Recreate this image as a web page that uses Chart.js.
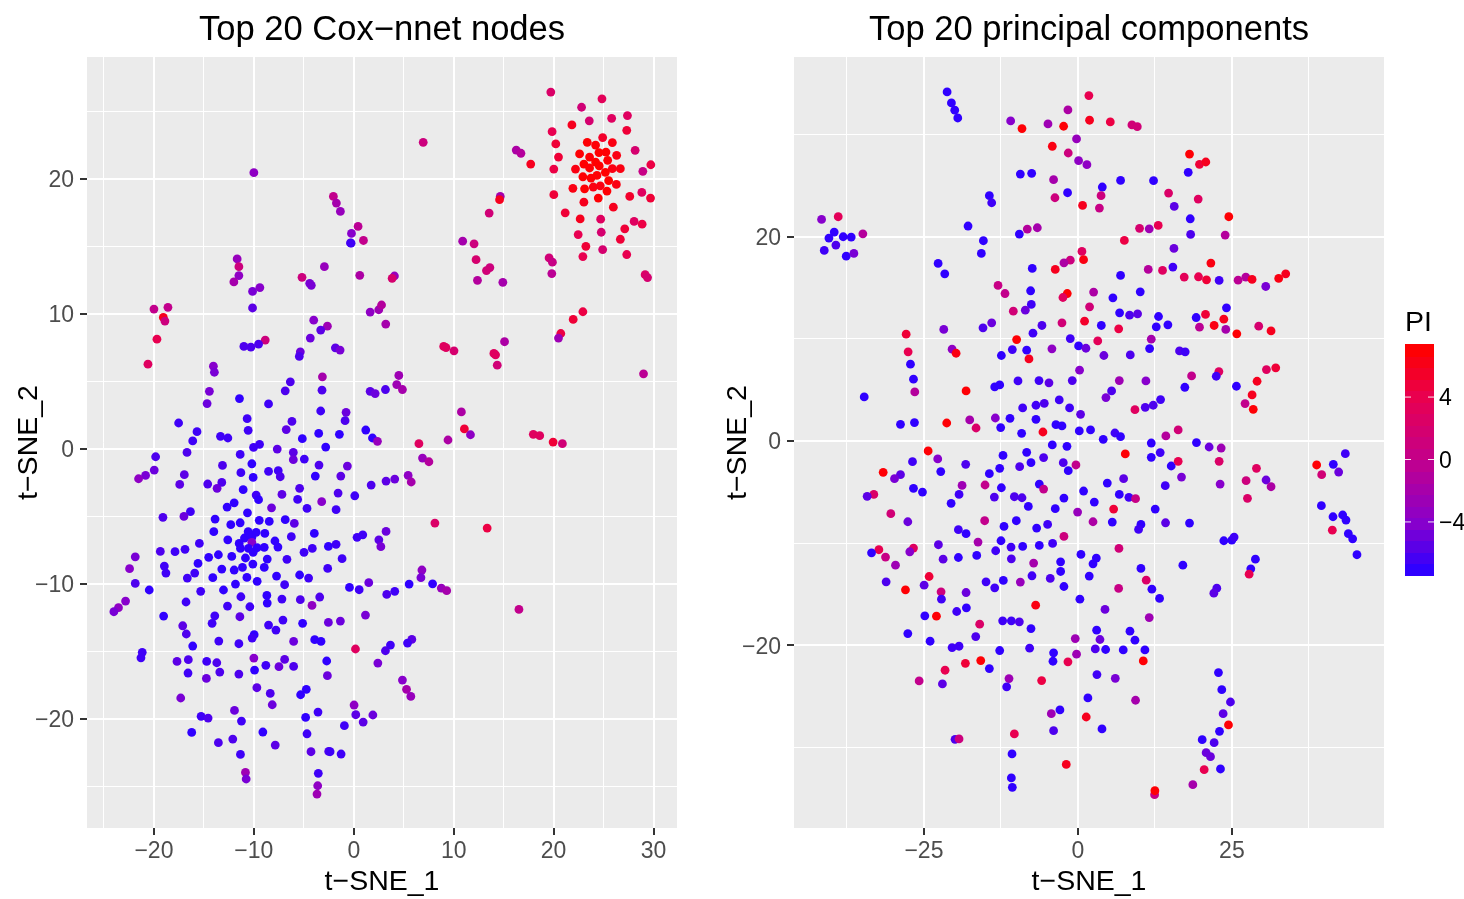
<!DOCTYPE html>
<html>
<head>
<meta charset="utf-8">
<title>t-SNE</title>
<script src="https://cdn.jsdelivr.net/npm/chart.js@4"></script>
<style>
  html, body { margin: 0; padding: 0; background: #fff; overflow: hidden; }
  canvas { position: absolute; top: 0; }
</style>
</head>
<body>
<div style="position:absolute;left:0;top:0;width:720px;height:899px"><canvas id="graficoCox"></canvas></div>
<div style="position:absolute;left:720px;top:0;width:744px;height:899px"><canvas id="graficoPca"></canvas></div>
<script>
// Top 20 Cox-nnet nodes: x, y and PI of each point, same order in the three lists
const coxX = [
  -10,-2.04,-1.74,-1.34,.43,-.23,-.33,-.27,.97,-11.67,-11.5,-11.5,-12,-10.13,-9.4,-10.13,-5.18,-4.41,-4.25,-2.94,.6,-20,-18.6,-19.06,-18.9,-19.7,-20.6,1.64,2.5,2.78,
  -4.01,-2.64,-3.31,-4.35,-8.86,-9.53,-10.3,-11,-1.84,-1.37,-5.35,-5.45,-14.05,-13.95,-3.14,-6.35,-6.86,-3.18,-14.45,-14.68,-11.44,-8.53,1.64,2.14,-3.31,-.77,-.87,-10.67,-6.19,-6.76,
  -10.57,-17.53,-15.69,-13.34,-12.6,-16.12,-9.43,-5.15,-3.51,-1.44,1.2,1.87,2.37,
  19.72,24.84,22.8,27.39,25.81,23.57,21.83,19.85,27.32,24.91,23.37,25.88,24.2,20.22,28.16,22.6,24.54,25.24,26.31,20.49,23.6,24.2,25.41,23.03,24.57,23.6,22.19,20.02,25.88,26.68,
  25.18,29.73,28.93,22.93,23.74,24.34,25.51,26.28,21.93,23.1,23.97,24.67,25.34,20.02,27.62,28.83,29.7,23.03,24.47,25.98,21.16,22.66,24.71,28.06,28.86,27.12,24.77,22.46,26.68,23.23,
  24.91,22.93,27.32,14.66,14.59,13.55,17.71,16.26,16.73,6.95,10.9,12.04,12.24,13.62,13.28,12.38,14.92,19.55,19.88,19.82,29.16,29.4,4.07,3.84,3.2,22.93,21.96,20.72,20.49,15.09,
  9,9.23,10.03,14.02,14.19,14.36,29,4.51,4.3,4.87,3.17,10.77,11.07,11.68,9.43,6.52,17.97,18.61,19.95,20.88,
  6.88,7.52,5.44,5.75,3.23,4.1,8.12,13.35,3.23,6.82,6.72,5.54,7.89,8.76,9.3,4.1,3.3,16.53,5.81,5.38,3.67,3.17,4.87,5.28,5.71,
  -10.03,-7.66,-6.05,-6.05,-4.95,-2.81,-16.69,-19.83,-11.37,-10.2,-13.14,-3.48,-.64,-19.97,-20.84,-21.54,-16.96,-17.42,-14.62,-13.21,-13.68,-11.3,-10.07,-8.53,-7.56,-7.36,-3.85,-1.3,1.74,-11.07,
  -5.42,-7.19,-1.57,.1,-9.77,-9.53,-5.62,-3.21,-11.97,-12.68,-8.23,-4.68,-1.77,-16.35,-17,-19.1,-10.64,-13.88,-9.46,-8.46,-6.86,-5.95,-12.31,-11.37,-14.01,-10.57,-9.77,-8.9,-6.25,-3.95,
  -10.94,-12.61,-10.2,-10.2,-11.47,-7.89,-15.45,.33,.9,2.51,2.71,-2.54,-1.77,-4.15,-7.59,-11.34,-10.54,-9.67,-8.96,-10.07,-19.36,-17.89,-16.89,-4.98,-21.87,-14.52,-13.55,-12.21,-10.84,-8.66,
  -6.69,-1.17,-15.59,-10.1,-22.44,-18.96,-18.8,-13.21,-11.97,-11.14,-8.96,-2.61,-15.92,-16.66,-14.11,-10.7,-7.73,-5.42,-4.52,-9.67,-11.84,-6.92,-21.87,-.43,.54,1.5,-20.47,-15.32,-13.04,-11.3,
  -8.7,-7.19,-5.35,-3.41,-22.84,-16.79,-8.66,-23.55,-24.01,-12.64,-10.4,-4.18,-19.03,-13.91,-11.4,1.17,-7.09,-14.18,-5.12,-2.54,-1.34,-17.12,-8.53,-7.79,-16.76,-9.97,-10.17,-13.51,-11.5,-6.02,
  -3.91,-3.28,-16.12,.17,-21.17,-21.3,-17.69,-16.56,-14.72,-13.71,-10,-6.92,-2.71,-8.8,-7.49,-6.02,2.41,-16.59,-13.41,-11.5,-9.93,-2.64,-14.75,-9.7,-8.36,-4.75,-5.32,-17.32,-8.16,.03,
  -11.94,-15.28,-14.58,-3.58,.2,1.91,-11.24,-4.82,.94,-.94,-16.22,-9.1,-4.68,-12.11,-13.55,-7.86,-4.28,-2.51,-2.37,-1.27,-11.34,-10.84,-10.77,-3.55,-3.61,-3.68
];
const coxY = [
  20.47,18.71,18.22,17.6,16.49,15.97,15.27,15.25,15.45,14.08,13.51,12.85,12.38,11.68,11.96,10.45,12.72,12.28,12.13,13.51,12.87,10.37,10.5,9.75,9.48,8.14,6.29,10.15,10.32,10.67,
  9.55,9.1,8.81,8.22,8.07,7.77,7.55,7.6,7.5,7.33,7.2,6.86,6.14,5.69,5.35,4.98,4.31,4.36,4.28,3.37,3.74,3.34,4.28,4.11,2.82,2.72,2.1,2.25,2.05,1.44,
  1.39,1.93,1.29,.94,.82,.6,.35,.77,1.16,1.09,1.41,.82,.57,
  26.44,25.94,25.32,24.7,24.5,24.31,24.01,23.51,23.61,23.07,22.72,22.7,22.52,22.6,22.13,21.86,21.96,22,21.76,21.63,21.63,21.26,21.39,21.11,20.97,20.82,20.74,20.74,20.77,20.77,
  20.5,21.06,20.57,20.17,20.07,20.27,19.88,19.6,19.31,19.28,19.41,19.5,19.11,18.84,18.71,19.01,18.59,18.29,18.59,17.92,17.5,17.05,17.03,16.86,16.66,16.31,16.06,15.89,15.54,15.02,
  14.78,14.26,14.41,18.71,18.47,17.48,21.11,22.15,21.91,22.72,15.4,15.2,14.03,13.44,13.22,12.5,12.35,14.16,13.84,13,12.92,12.7,12.82,12.65,9.26,10.17,9.6,8.56,8.22,7.95,
  7.6,7.52,7.28,7.08,6.98,6.21,5.57,5.45,4.78,4.41,4.41,2.75,1.49,1.06,.67,.4,1.09,.99,.52,.4,
  -.67,-.94,-1.95,-2.44,-2.37,-2.22,-5.48,-5.85,-6.1,-8.96,-9.53,-10,-9.98,-10.3,-10.49,-10.54,-10.77,-11.88,-14.1,-14.37,-14.52,-14.94,-17.11,-17.8,-18.32,
  .12,0,-.25,-.79,-.74,.15,-.25,-.57,-.4,-1.09,-1.21,-1.19,-1.26,-1.56,-1.95,-2.2,-1.9,-2.62,-2.59,-2.47,-2.91,-1.75,-2.1,-1.65,-1.6,-2.05,-2,-2,-2.67,-3.01,
  -2.91,-3.36,-3.26,-3.46,-3.41,-3.75,-3.73,-3.9,-3.98,-4.3,-4.35,-4.4,-4.49,-4.64,-4.99,-5.06,-4.72,-5.19,-5.28,-5.36,-5.23,-5.51,-5.6,-5.46,-6.12,-6.12,-6.17,-6.25,-6.49,-6.25,
  -6.59,-6.72,-6.54,-6.91,-6.99,-6.81,-6.99,-6.54,-6.35,-6.72,-7.23,-7.21,-7.06,-7.36,-7.26,-7.36,-7.36,-7.31,-7.28,-7.65,-7.58,-7.6,-7.43,-7.65,-7.98,-8.02,-7.83,-7.95,-8.07,-8.15,
  -8.17,-8.12,-8.47,-8.52,-8.86,-8.67,-9.19,-8.89,-8.96,-8.77,-8.77,-8.84,-9.19,-9.56,-9.53,-9.51,-9.41,-9.33,-9.56,-9.8,-10,-10.05,-9.95,-10.25,-10.42,-9.9,-10.44,-10.54,-10.44,-10.94,
  -10.84,-11.11,-11.16,-10.96,-11.26,-11.33,-11.41,-11.75,-12.05,-11.63,-11.68,-11.58,-12.37,-12.35,-12.42,-12.3,-12.67,-12.91,-12.91,-12.84,-12.74,-13.09,-13.04,-13.41,-13.7,-13.75,-14,-14.22,-14.42,-14.25,
  -14.12,-14.25,-14.59,-14.81,-15.06,-15.46,-15.73,-15.6,-15.73,-15.83,-15.48,-15.58,-15.7,-16.02,-16.12,-16.1,-15.85,-16.59,-16.52,-16.67,-16.37,-16.79,-16.99,-17.68,-18.1,-17.8,-18.2,-18.44,-18.94,-18.96,
  -19.36,-19.8,-19.93,-19.48,-19.68,-19.7,-20.15,-19.88,-20.22,-20.49,-20.99,-20.96,-21.09,-21.48,-21.75,-21.93,-22.42,-22.4,-22.42,-22.59,-22.62,-23.95,-24.44,-24.02,-24.94,-25.56
];
const coxPI = [
  -3.5,0,-2,-3,-.5,-4,-6,-6.5,0,-3,1,-3.5,-2,-4.5,-4,-5.5,1,-4.5,-4.5,-3,-1.5,0,0,6,1,4,3,-3.5,-2.5,-1,
  -4,-2.5,-5.5,-5,1,-6,-6,-6,-5.5,-4.5,-5,-6,-4,-4.5,-2,-6,-6,-6,-4.5,-5,-7,-6.5,-5.5,-5,-6.5,-5,-6,-6.5,-6,-5.5,
  -6.5,-6.5,-6.5,-6.5,-6.5,-6.5,-6.5,-7,-7,-7,-7,-7,-3,
  2.5,3.5,1.5,3,3,2,6,4,5,5.5,7,6.5,7,5,2,7,7.4,7,6.5,5,7,7.4,7,7.4,7.4,7,6.5,4.5,6.5,6.5,
  7.4,4.5,.5,7,7,7,7.4,6.5,6.5,7,6.5,6.5,7,5,5.5,3,5,6,7,6,5,6,3,3,4.5,5,2,4,5,5,
  2,4,4,-2,6,1.5,6,-1.5,-1,1,-2,1,2,1,1.5,-1,-2,1.5,.5,-.5,2.5,2,-3,2,-2,4.5,5,4.5,-2.5,-1.5,
  3,3,2,3,3,1.5,-.5,-2.5,-2.5,-2,-6,-1.5,5,-3.5,-1.5,3,3,3,5,1.5,
  -3,-1,-3.5,-2,-5.5,-5,2.5,4.5,-5,-3.5,-4.5,-7,-7,-3,-2,-6.5,-6,0,-5.5,-6.5,-6.5,-6,-4,-2,-3,
  -6.5,-5.5,-5.5,-5,-6.5,-7,-6,-6,-6.5,-7,-6,-6,-5,-5,-4.5,-3.5,-5.5,-5.5,-6,-6,-5,-6.5,-7,-6.5,-6.5,-6,-7,-5.5,-6,-7,
  -6,-5.5,-6,-6.5,-6.5,-7,-6.5,-4,-7,-7,-5,-6.5,-6.5,-6.5,-5,-6,-7,-7,-7,-7,-7,-5.5,-7,-7,-7,-7.4,-7,-7,-6.5,-7,
  -7.4,-7,-7.4,-4,-7.4,-7,-6.5,-6.5,-6.5,-5.5,-4.5,-7,-6.5,-6.5,-7,-7.4,-7.4,-7.4,-7.4,-7.4,-6,-6.5,-6.5,-6.5,-4.5,-7,-7,-7,-7,-7,
  -6.5,-6.5,-7,-7,-4,-6.5,-6.5,-7,-7,-7,-7,-6.5,-6.5,-6.5,-7,-7,-7,-7,-6.5,-7,-7,-6.5,-6,-7,-6.5,-5,-7,-6.5,-7,-6.5,
  -7,-6.5,-6,-6,-4,-6.5,-7,-3.5,-4.5,-6.5,-6.5,-3.5,-7,-6.5,-5.5,-4.5,-6.5,-6.5,-7,-5,-5,-5.5,-6.5,-6.5,-6,-7,-6.5,-6.5,-6.5,-5,
  -7,-7,-7,3,-6.5,-6.5,-5.5,-6,-6.5,-6,-4,-5.5,-7,-6.5,-5,-6,-4.5,-6.5,-6,-6,-7,-5,-5,-5.5,-6,-7,-7,-4.5,-5,-3.5,
  -5,-6.5,-6,-6.5,-5.5,-5,-6.5,-7,-5.5,-6.5,-7,-7,-6.5,-6,-6,-5.5,-5.5,-6,-6.5,-6.5,-6.5,-2.5,-4.5,-6.5,-3.5,-2.5
];

// Top 20 principal components: x, y and PI of each point, same order in the three lists
const pcaX = [
  -21.24,-20.54,-20,-19.51,-10.92,-9.08,-4.86,-2.32,-1.62,1.78,1.89,-.22,-4.16,-1.57,.11,1.46,-9.35,-7.51,-3.95,-1.68,-3.73,.76,-14.38,-14,-41.62,-38.92,-39.57,-40.43,-38.11,-36.81,
  -34.92,-39.3,-41.19,-37.62,-36.38,-17.84,-15.35,-15.68,-9.51,-8.22,-6.59,.65,.92,-1.24,-2.27,-3.68,-7.41,-22.7,-21.62,-12.97,-11.84,-7.68,-7.57,-8.54,-10.49,-1.73,-2.43,1.89,-2.59,1.08,
  -21.78,-15.41,-14,-5.84,-7.3,-27.89,-9.95,-1.24,.11,1.3,-27.57,-20.43,-19.78,-10.65,-8.32,-4.22,-12.43,-7.95,-27.19,.27,-26.7,-9.73,-6.32,-4.7,-.92,-13.51,-12.7,-26.49,-18.16,-34.7,
  -3.03,-5.46,-6.81,-8.97,-1.35,.43,-13.41,-11.03,-6.81,-17.57,-21.3,-26.54,-28.81,-16.54,-12.54,-3.57,-2.59,.22,-9.14,-5.68,2.05,
  5.26,8.77,9.64,18.12,19.74,20.77,17.91,6.93,12.28,3.96,3.76,3.49,14.72,19.53,15.64,18.24,24.5,10.01,11.58,13.04,7.54,18.3,23.91,15.59,21.59,6.93,11.42,13.74,15.42,17.26,
  19.58,20.88,22.93,26.01,27.26,28.28,30.5,32.6,33.74,2.55,10.12,5.68,24.12,6.77,8.39,9.69,13.09,19.2,20.72,23.69,3.8,6.62,12.72,14.61,19.74,22.12,24.01,25.8,29.36,31.36,
  3.22,11.91,11.64,16.5,17.42,4.22,8.5,22.89,22.46,18.46,30.61,32.12,6.72,11.04,29.09,17.36,25.74,5.47,4.55,28.28,13.42,27.14,12.23,10.93,9.26,28.47,6.01,6.92,4.11,14.28,
  16.28,19.25,11.91,
  -24.32,-22.76,-26.86,-18.22,-22.27,-12.16,-8.32,-4.16,-1.78,-5.57,-7.62,-12.7,-9.46,-14.38,-2.38,-.32,-1.57,-31.62,-28.81,-29.78,-18.81,-15.08,-12.43,-6.27,-5.57,-26.7,-25.24,-33.14,-34.22,-19.3,
  -13.57,-10.32,-9.08,-2.27,.92,-20.59,-8.05,-3.68,-.05,-30.38,-27.62,-15.14,-10,-12,-4.92,-6.7,-19.41,-18.16,-2.27,-16.22,-12.49,-22.65,-10.86,-8.97,-6.27,-4.11,-32.32,-33.51,-31.24,-26.7,
  -27.3,-19.41,-21.89,-16.43,-13.35,-10.81,.49,-7.19,-2.81,-29.62,-24.16,-2.81,1.84,-7.46,-4.49,-31.14,-24.97,-14.92,-13.51,-12.11,-9.35,-2.27,-28,-22.22,-18.16,-22.16,.32,-6.86,-18.11,-19.68,
  -24.86,-22.97,-15.95,-12.22,-10.81,-9.51,-7.62,-27.62,-16.59,-.43,-24,-20.43,-19.3,-12.7,-7.84,-3.95,-.22,-4.05,-1.62,-18.27,-15.78,-21.57,-14.38,-11.19,-25.78,-22,-5.89,-11.57,1.62,-2.92,
  -4.32,1.35,-3.95,-10.32,-19.95,-19.3,-10.7,-1.89,-10.81,-10.65,
  7.69,11.91,13.36,21.31,23.26,22.93,15.15,16.28,16.82,14.18,23.09,7.42,4.77,6.72,8.28,9.36,2.66,28.99,27.31,30.55,31.36,27.53,38.77,41.47,43.42,39.58,42.34,39.53,12.55,5.8,
  41.42,42.99,43.53,5.58,2.45,10.23,9.85,14.23,18.12,41.31,43.91,44.61,23.69,24.99,25.36,6.66,45.31,2.99,2.45,28.82,17.04,10.23,28.07,27.8,11.09,6.61,12.01,13.26,22.55,22.07,
  4.4,11.58,3.04,8.45,3.58,9.26,2.82,4.5,7.36,10.88,10.61,22.82,3.09,6.07,23.36,24.77,9.36,23.58,24.45,3.91,22.99,20.18,22.12,20.82,21.53,20.5,23.15,18.66,12.45,12.5
];
const pcaY = [
  34.18,33.1,32.39,31.63,31.34,30.59,31.05,30.82,32.42,33.82,31.41,29.58,28.86,28.2,27.45,27.06,26.14,26.21,25.59,24.31,23.82,23.07,24.02,23.33,21.7,21.96,20.46,19.87,20,19.97,
  20.29,19.18,18.66,18.1,18.37,21.05,19.61,18.37,20.26,20.75,20.88,18.56,17.75,17.71,17.45,16.8,16.9,17.39,16.37,15.23,14.44,14.71,13.37,12.81,12.71,14.44,14.05,13.14,11.57,11.73,
  10.92,11.08,11.57,11.31,10.56,10.46,9.93,10.03,9.31,9.08,8.73,8.99,8.59,8.95,8.89,9.02,8.37,8.04,7.52,6.93,6.05,5.88,5.92,5.69,5.92,5.29,5.49,4.8,4.9,4.31,
  4.02,3.69,3.5,3.24,3.24,2.61,2.25,2.22,2.12,2.06,1.76,1.8,1.63,1.27,1.31,1.6,1.47,.98,.75,.88,1.08,
  31.24,30.95,30.78,28.1,27.09,27.32,26.31,25.52,25.49,24.87,24.02,22.81,24.28,23.69,22.97,21.76,21.96,20.82,20.78,21.11,19.64,20.23,20.16,18.86,17.42,16.21,16.8,16.7,17.03,16.05,
  16.08,15.78,15.72,15.75,16.05,15.82,15.13,15.92,16.37,14.58,14.61,14.02,13.04,12.55,12.32,12.45,12.19,12.09,12.39,11.93,11.31,10.98,11.18,11.37,11.14,11.31,10.92,10.49,11.24,10.78,
  9.8,9.97,9.05,8.82,8.73,8.37,8.43,6.8,6.34,6.37,6.99,7.16,5.92,5.88,5.85,5.26,5.36,4.9,4.25,4.51,4.05,3.66,3.5,3.3,3.07,3.1,.78,.42,.16,.49,
  1.08,-.16,-.2,
  -.98,-1.76,-2.03,-2.29,-3,-1.41,-1.11,-.39,-.52,-1.63,-2.12,-2.68,-2.52,-3.2,-2.12,-2.35,-2.91,-3.07,-3.3,-3.69,-4.35,-4.31,-4.58,-4.22,-4.71,-4.64,-5,-5.23,-5.42,-5.23,
  -5.49,-5.46,-5.56,-5.59,-4.9,-6.11,-6.41,-6.63,-6.96,-7.12,-7.91,-7.81,-7.81,-8.37,-8.17,-8.53,-8.69,-9.08,-9.35,-9.9,-9.77,-10.16,-10.39,-10.33,-10.23,-10.03,-10.65,-10.95,-11.37,-10.49,
  -10.85,-11.41,-11.57,-11.21,-10.75,-11.54,-11.11,-11.96,-11.83,-12.16,-13.27,-12.78,-13.23,-13.2,-13.46,-13.79,-14.12,-13.79,-14.38,-13.66,-13.82,-14.25,-14.58,-14.77,-14.84,-15.49,-15.49,-16.08,-16.34,-16.7,
  -17.12,-17.16,-17.94,-17.61,-17.61,-17.71,-18.37,-18.86,-19.15,-19.35,-19.61,-20.23,-20.1,-20.52,-20.29,-20.75,-20.88,-21.57,-21.63,-21.77,-21.5,-22.45,-22.29,-23.27,-23.5,-23.79,-23.46,-24.08,-25.16,-26.34,
  -26.7,-27.03,-28.37,-28.69,-29.22,-29.18,-30.65,-31.67,-33,-33.92,
  -1.27,-1.6,-1.14,-.59,-.69,-1.99,-2.45,-1.99,-3.53,-4.38,-4.22,-3.69,-4.12,-5.23,-5.52,-5.65,-5.98,-2.68,-3.89,-3.82,-4.48,-5.62,-2.35,-2.29,-1.24,-3.3,-3.04,-6.34,-6.67,-6.67,
  -7.42,-7.25,-7.75,-7.94,-7.91,-8.17,-8.66,-8.01,-8.04,-8.73,-9.08,-9.58,-9.77,-9.71,-9.41,-10.52,-11.14,-11.47,-12.03,-11.57,-12.16,-12.48,-12.52,-13.04,-13.63,-14.44,-14.51,-15.42,-14.41,-14.9,
  -16.5,-17.29,-18.53,-18.63,-19.44,-19.51,-20.36,-20.42,-20.46,-20.46,-21.54,-22.68,-22.88,-23.24,-24.35,-25.56,-25.39,-26.7,-27.81,-28.2,-28.43,-29.25,-29.54,-30.52,-30.92,-32.19,-32.12,-33.66,-34.64,-34.25
];
const pcaPI = [
  -7,-7,-7,-7,-4,7,-2.5,7,-1.5,4,6,-3,6.5,1,-3.5,-3.5,-7,-7,-2,-7,1,6,-7,-6.5,-4,3.5,-7,-7,-7,-7,
  -1,-6,-6.5,-7,-4.5,-7,-7,-7,-7,-1,-2,3,6.5,1,-1.5,6,-7,-7,-7,.5,0,-7,-6.5,-5,1.5,7,3,1.5,1.5,5.5,
  -4.5,-6,-5,-6,-6.5,5,7,-6.5,-7,-5,4,-3.5,6.5,-6.5,-7,-3.5,-7,6,-7,-4,-7,-6.5,-6.5,-5.5,-6,-7,-7,-1,7,-7,
  -6.5,-6,-6.5,-6.5,-6.5,-5.5,-4,-7,-7,-2,7,-7,-7,2.5,-7,-7,-7,-7,-7,6,-7,
  4.5,1.5,1.5,7,5,6,-7,-7,-7,-7,1,.5,2.5,3,-5.5,-7,7,2,-2.5,4,4.5,-6,-1,-5,6.5,-7,-1,3,-6.5,3.5,
  4,5,-6.5,-.5,-1,6,-4.5,6.5,6,-1.5,-7,-7,-7,-7,-6,-5.5,-7,-7,5,6,-7,4.5,-7,-7,-.5,6.5,-2,7,2,6,
  3.5,-2,-7,-6,-6.5,-5,-6,3,-6.5,0,3,5,-2.5,-4,6,-7,-7,-6,-4.5,6,-6.5,0,-6,-6,3,7,-6.5,-7,-7,-1,
  1.5,-7,-7,
  7,-4,-6.5,-6,-7,-7,-7,-7,-7,-6,-7,-7,-6,-7,-6,0,-7,7,-5.5,-4.5,-2.5,0,-7,-7,0,-7,-7,2.5,-5.5,-6.5,
  -6,-6,-6,-7,-7,-7,-7,-7,-3,1.5,-5,0,-7,-7,-6.5,-7,-6.5,-7,1,-2,-7,-5.5,-6.5,-7,-7,-6.5,4,-7,.5,3,
  -4,-7,-5.5,-7,-6.5,-6,-7,-2,-7,-2.5,5,-7,-7,-6.5,-6,-6,-5.5,-6.5,-6.5,-7,-3,-7,7,1,-5,-6.5,-7,6.5,-7,-6.5,
  -7,7,2.5,-6.5,-6.5,-6,-7,-7,-6,-2.5,-7,-6.5,-6.5,-7,-6.5,-7,-2.5,-7,4,5,7,4,-7,-2.5,0,-5.5,4.5,-6.5,-7,-7,
  -2.5,6,-6,4,-6,1,-7,6,-7,-7,
  7,-7,-6.5,-5,-2.5,2.5,-7,4,-4.5,-6.5,-4,-5.5,-7,-7,-6.5,.5,-7,3,1,-5,-1.5,2.5,7,-7,-6.5,1.5,-5,-7,-7,5,
  -7,-7,-7,-7,-1.5,-7,-6.5,-5.5,-7,4,-7,-7,-7,-7,-6.5,1.5,-7,-7,-7,-7,-7,-7,-7,4,2.5,.5,-7,-7,-6,-5.5,
  -5,-2.5,-7,-7,-5,-7,-6,-7,-7,-7,7,-7,-6.5,-4.5,-7,-6,-2,-5.5,7,-7,-7,-7,-6,-5,-5,4,-7,-2,.5,7
];

// Eixos: ticks com rotulo e linhas menores da grade
const coxTicksX = [-20, -10, 0, 10, 20, 30];
const coxMinorX = [-25, -15, -5, 5, 15, 25];
const coxTicksY = [-20, -10, 0, 10, 20];
const coxMinorY = [-25, -15, -5, 5, 15, 25];
const pcaTicksX = [-25, 0, 25];
const pcaMinorX = [-37.5, -12.5, 12.5, 37.5];
const pcaTicksY = [-20, 0, 20];
const pcaMinorY = [-30, -10, 10, 30];
const legendTicks = [4, 0, -4];

// Gradiente azul -> vermelho da escala PI
const piStops = [-7, -4, 0, 4, 7.2];
const piColors = [[48, 0, 255], [136, 0, 204], [194, 0, 140], [232, 0, 80], [255, 0, 0]];

function corPI(v) {
    let i = 0;
    while (i < piStops.length - 2 && v > piStops[i + 1]) i++;
    const t = Math.min(1, Math.max(0, (v - piStops[i]) / (piStops[i + 1] - piStops[i])));
    const c = piColors[i].map((a, k) => Math.round(a + (piColors[i + 1][k] - a) * t));
    return `rgb(${c[0]},${c[1]},${c[2]})`;
}

function rotulo(v) {
    return v < 0 ? '\u2212' + Math.abs(v) : String(v);
}

Chart.defaults.font.family = '"Liberation Sans", Arial, sans-serif';
Chart.defaults.animation = false;

// Fundo cinza do painel
const fundoPainel = {
    id: 'fundoPainel',
    beforeDraw(chart) {
        const a = chart.chartArea;
        chart.ctx.fillStyle = '#EBEBEB';
        chart.ctx.fillRect(a.left, a.top, a.right - a.left, a.bottom - a.top);
    }
};

// Barra de cores da legenda PI
const legendaPI = {
    id: 'legendaPI',
    afterDraw(chart) {
        const ctx = chart.ctx;
        const x0 = 685, largura = 29, topo = 344, base = 575;
        const yDe = v => base - (v + 7.4) / 14.8 * (base - topo);
        const bins = 20;
        for (let i = 0; i < bins; i++) {
            const v = -7.4 + 14.8 * (i + 0.5) / bins;
            ctx.fillStyle = corPI(v);
            ctx.fillRect(x0, Math.floor(yDe(-7.4 + 14.8 * (i + 1) / bins)), largura, Math.ceil((base - topo) / bins) + 1);
        }
        ctx.fillStyle = '#000';
        ctx.font = '28.5px "Liberation Sans", Arial, sans-serif';
        ctx.textAlign = 'left';
        ctx.textBaseline = 'middle';
        ctx.fillText('PI', 685, 323);
        ctx.font = '23px "Liberation Sans", Arial, sans-serif';
        legendTicks.forEach(v => {
            const y = yDe(v);
            ctx.fillStyle = 'rgba(255,255,255,0.9)';
            ctx.fillRect(x0, y - 0.5, 6, 1);
            ctx.fillRect(x0 + largura - 6, y - 0.5, 6, 1);
            ctx.fillStyle = '#000';
            ctx.fillText(rotulo(v), 719, y + 2);
        });
    }
};

function eixo(titulo, limites, principais, menores, ajuste, tituloPadding, marcas) {
    const ehPrincipal = v => principais.includes(v);
    return {
        type: 'linear',
        min: limites[0],
        max: limites[1],
        afterBuildTicks: s => { s.ticks = principais.concat(menores).map(v => ({ value: v })); },
        afterFit: ajuste,
        border: { display: false },
        grid: {
            color: '#FFFFFF',
            lineWidth: c => (c.tick && ehPrincipal(c.tick.value) ? 2 : 1),
            tickColor: c => (c.tick && ehPrincipal(c.tick.value) ? '#333333' : 'rgba(0,0,0,0)'),
            tickLength: 7,
            tickWidth: 2
        },
        ticks: {
            autoSkip: false,
            maxRotation: 0,
            padding: marcas.padding,
            labelOffset: marcas.offset,
            color: '#4D4D4D',
            font: { size: 23 },
            callback: v => (ehPrincipal(v) ? rotulo(v) : '')
        },
        title: {
            display: true,
            text: titulo,
            color: '#000',
            font: { size: 28.5, lineHeight: 1.2 },
            padding: tituloPadding
        }
    };
}

function desenharGrafico(id, titulo, xs, ys, pis, cfg, plugins) {
    const pontos = xs.map((x, i) => ({ x: x, y: ys[i] }));
    new Chart(document.getElementById(id).getContext('2d'), {
        type: 'scatter',
        data: {
            datasets: [{
                data: pontos,
                backgroundColor: pis.map(corPI),
                pointRadius: 4.4,
                pointBorderWidth: 0
            }]
        },
        options: {
            responsive: true,
            maintainAspectRatio: false,
            layout: { padding: { right: cfg.direita } },
            plugins: {
                legend: { display: false },
                tooltip: { enabled: false },
                title: {
                    display: true,
                    text: titulo,
                    color: '#000',
                    fullSize: false,
                    font: { size: 34.6, weight: 'normal', lineHeight: 1.2 },
                    padding: { top: 10, bottom: 5.5 }
                }
            },
            scales: {
                x: eixo('t\u2212SNE_1', cfg.limX, cfg.tickX, cfg.menorX, s => { s.height = 71; }, { top: 0, bottom: 0 }, { padding: 3, offset: 0 }),
                y: eixo('t\u2212SNE_2', cfg.limY, cfg.tickY, cfg.menorY, s => { s.width = cfg.larguraY; }, { top: cfg.tituloY, bottom: 0 }, { padding: 6, offset: 2 })
            }
        },
        plugins: plugins
    });
}

desenharGrafico('graficoCox', 'Top 20 Cox\u2212nnet nodes', coxX, coxY, coxPI, {
    direita: 43, larguraY: 87, tituloY: 12,
    limX: [-26.7, 32.35], limY: [-28.07, 29.04],
    tickX: coxTicksX, menorX: coxMinorX, tickY: coxTicksY, menorY: coxMinorY
}, [fundoPainel]);

desenharGrafico('graficoPca', 'Top 20 principal components', pcaX, pcaY, pcaPI, {
    direita: 80, larguraY: 74, tituloY: 1,
    limX: [-46.1, 49.7], limY: [-37.9, 37.6],
    tickX: pcaTicksX, menorX: pcaMinorX, tickY: pcaTicksY, menorY: pcaMinorY
}, [fundoPainel, legendaPI]);
</script>
</body>
</html>
